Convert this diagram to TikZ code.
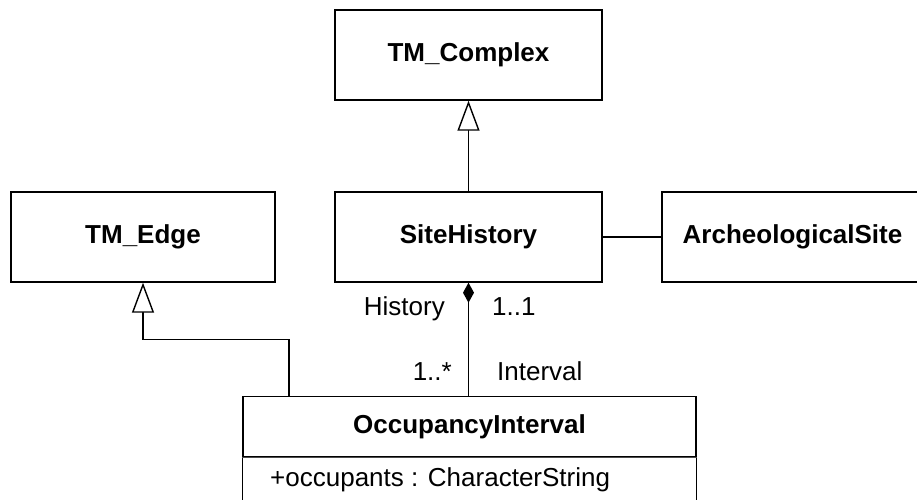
\documentclass[tikz,border=0pt]{standalone}
\usepackage{fontspec}
\setmainfont{Liberation Sans}
\usetikzlibrary{arrows.meta}
\begin{document}
\begin{tikzpicture}[x=1pt,y=-1pt,
  font=\fontsize{26}{31}\selectfont,
  cls/.style={draw,line width=1.4pt,minimum height=90pt,inner sep=0pt,font=\fontsize{26}{31}\selectfont\bfseries},
  link/.style={line width=1.4pt},
  gen/.style={link,-{Triangle[open,length=30pt,width=22pt,line width=1.4pt,fill=white]}},
  comp/.style={link,-{Diamond[length=20pt,width=11pt]}},
  lbl/.style={inner sep=0pt}]
\useasboundingbox (0,0) rectangle (917,499);
\clip (0,0) rectangle (917,499);
\node[cls,minimum width=267pt] (tc) at (468.5,55) {TM\_Complex};
\node[cls,minimum width=267pt] (sh) at (468.5,237) {SiteHistory};
\node[cls,minimum width=264pt] (te) at (143,237) {TM\_Edge};
\node[cls,minimum width=261pt] (as) at (792.5,237) {ArcheologicalSite};
\node[cls,minimum width=453pt,minimum height=60pt] (oi) at (469.5,426.5) {OccupancyInterval};
\draw[line width=1.4pt] (oi.south west) -- ++(0,80) -| (oi.south east);
\draw[line width=1pt,black!70] (oi.south west) -- (oi.south east);
\node[lbl,anchor=base west] (att) at (270,486) {+occupants : CharacterString};
\draw[gen] (sh.north) -- (tc.south);
\draw[link] (sh.east) -- (as.west);
\draw[comp] (oi.north -| sh.south) -- (sh.south);
\draw[gen] ([xshift=-180.5pt]oi.north) |- ([yshift=-57pt]te.south) -- (te.south);
\node[lbl,anchor=base east] (l1) at (445,315) {History};
\node[lbl,anchor=base west] (l2) at (492,315) {1..1};
\node[lbl,anchor=base east] (l3) at (452,380) {1..*};
\node[lbl,anchor=base west] (l4) at (497,380) {Interval};
\end{tikzpicture}
\end{document}
